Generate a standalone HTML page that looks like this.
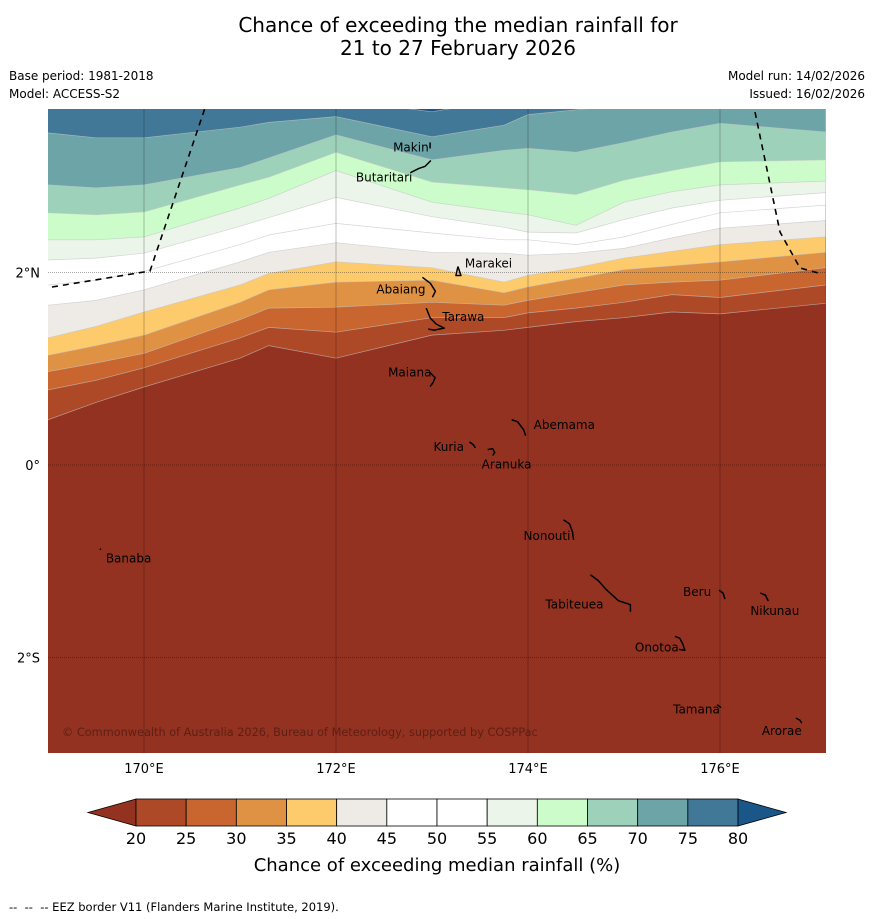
<!DOCTYPE html>
<html><head><meta charset="utf-8">
<style>
html,body{margin:0;padding:0;background:#fff;}
svg{display:block;font-family:"DejaVu Sans","Liberation Sans",sans-serif;}
</style></head>
<body>
<svg id="chart" width="873" height="919" viewBox="0 0 873 919" xmlns="http://www.w3.org/2000/svg">
  <text x="458" y="32" font-size="20" text-anchor="middle">Chance of exceeding the median rainfall for</text>
  <text x="458" y="55" font-size="20" text-anchor="middle">21 to 27 February 2026</text>
  <text x="9" y="80" font-size="12">Base period: 1981-2018</text>
  <text x="9" y="98" font-size="12">Model: ACCESS-S2</text>
  <text x="865" y="80" font-size="12" text-anchor="end">Model run: 14/02/2026</text>
  <text x="865" y="98" font-size="12" text-anchor="end">Issued: 16/02/2026</text>
  <defs><clipPath id="mapclip"><rect x="48" y="109" width="778" height="644"/></clipPath></defs>
  <g id="map" clip-path="url(#mapclip)"></g>
  <g id="axes"></g>
  <g id="cbar"></g>
  <text x="437" y="871" font-size="18" text-anchor="middle">Chance of exceeding median rainfall (%)</text>
  <text x="9" y="911" font-size="11.5" xml:space="preserve">--  --  -- EEZ border V11 (Flanders Marine Institute, 2019).</text>
</svg>
<script>
const lons = [169.0,169.5,170.0,171.0,171.3,172.0,173.0,173.75,174.0,174.5,175.0,175.5,176.0,177.1];
const levels = [20,25,30,35,40,45,50,55,60,65,70,75,80];
const th20 = [0.47,0.65,0.81,1.11,1.24,1.11,1.35,1.40,1.43,1.49,1.53,1.59,1.57,1.68];
const th25 = [0.78,0.88,1.01,1.32,1.43,1.38,1.53,1.53,1.58,1.63,1.69,1.77,1.74,1.87];
const th30 = [0.97,1.06,1.16,1.51,1.63,1.64,1.69,1.66,1.71,1.79,1.87,1.90,1.92,2.05];
const th35 = [1.14,1.24,1.35,1.69,1.82,1.90,1.92,1.79,1.85,1.94,2.03,2.07,2.11,2.21];
const th40 = [1.32,1.44,1.59,1.87,1.99,2.11,2.05,1.90,1.97,2.05,2.15,2.22,2.29,2.37];
const th45 = [1.66,1.71,1.82,2.11,2.21,2.31,2.21,2.20,2.18,2.20,2.25,2.36,2.46,2.54];
const th50 = [1.87,1.92,2.01,2.29,2.39,2.51,2.41,2.34,2.34,2.29,2.37,2.50,2.62,2.70];
const th55 = [2.13,2.15,2.20,2.48,2.57,2.78,2.58,2.47,2.42,2.41,2.55,2.67,2.75,2.83];
const th60 = [2.34,2.34,2.37,2.67,2.77,3.06,2.73,2.63,2.60,2.49,2.73,2.84,2.91,2.95];
const th65 = [2.62,2.60,2.63,2.91,2.99,3.25,2.94,2.88,2.86,2.81,2.96,3.06,3.15,3.17];
const th70 = [2.91,2.88,2.91,3.09,3.19,3.43,3.17,3.27,3.29,3.25,3.35,3.46,3.55,3.46];
const th75 = [3.45,3.40,3.40,3.51,3.56,3.62,3.41,3.53,3.64,3.69,3.74,3.79,3.79,3.79];
const th80 = [3.80,3.80,3.80,3.80,3.80,3.80,3.67,3.80,3.80,3.80,3.80,3.80,3.80,3.80];
const bandColors = ['#933220','#ae4928','#c9652f','#df9244','#fdcb6b','#eeebe7','#ffffff','#ffffff','#ebf5ea','#cbfcc9','#9dd1ba','#6ca4a8','#417898','#1b5688'];
const cbarTicks = [20,25,30,35,40,45,50,55,60,65,70,75,80];
const xTicks = [170,172,174,176];
const yTicks = [2,0,-2];
const yTickLabels = ['2°N','0°','2°S'];
const islands = [
 {name:'Makin',lon:172.98,lat:3.32,lx:-37,ly:6,path:[[0,-3],[0,3]]},
 {name:'Butaritari',lon:172.78,lat:3.06,lx:-55,ly:11,path:[[0,2],[8,-2],[14,-4],[20,-10]]},
 {name:'Marakei',lon:173.27,lat:2.0,lx:7,ly:-5,path:[[0,-6],[-2,3],[3,3],[0,-6]]},
 {name:'Abaiang',lon:172.9,lat:1.95,lx:-46,ly:16,path:[[0,0],[8,6],[13,14],[10,20]]},
 {name:'Tarawa',lon:172.94,lat:1.63,lx:16,ly:13,path:[[0,0],[4,10],[10,16],[18,20],[8,22],[2,21]]},
 {name:'Maiana',lon:172.98,lat:0.96,lx:-42,ly:4,path:[[0,0],[5,5],[3,10],[0,14]]},
 {name:'Abemama',lon:173.83,lat:0.47,lx:22,ly:9,path:[[0,0],[6,2],[12,10],[14,16]]},
 {name:'Kuria',lon:173.39,lat:0.24,lx:-36,ly:9,path:[[0,0],[4,3],[6,6]]},
 {name:'Aranuka',lon:173.58,lat:0.16,lx:-6,ly:19,path:[[0,0],[5,-1],[7,3],[5,6]]},
 {name:'Banaba',lon:169.54,lat:-0.87,lx:6,ly:14,path:[[0,0],[1,1]]},
 {name:'Nonouti',lon:174.37,lat:-0.57,lx:-40,ly:20,path:[[0,0],[6,4],[9,12],[10,20]]},
 {name:'Beru',lon:175.99,lat:-1.3,lx:-36,ly:6,path:[[0,0],[4,3],[6,9]]},
 {name:'Nikunau',lon:176.42,lat:-1.33,lx:-10,ly:22,path:[[0,0],[5,2],[8,8]]},
 {name:'Tabiteuea',lon:174.65,lat:-1.14,lx:-45,ly:34,path:[[0,0],[8,6],[16,15],[28,26],[40,30],[40,37]]},
 {name:'Onotoa',lon:175.53,lat:-1.78,lx:-40,ly:15,path:[[0,0],[5,2],[8,8],[10,14],[4,13]]},
 {name:'Tamana',lon:175.97,lat:-2.49,lx:-44,ly:9,path:[[0,0],[4,3]]},
 {name:'Arorae',lon:176.79,lat:-2.63,lx:-34,ly:17,path:[[0,0],[4,2],[6,5]]}
];
const NS='http://www.w3.org/2000/svg';
function xs(lon){return 144+(lon-170)*96;}
function ys(lat){return 465-lat*96.25;}
function mk(tag,attrs,parent){const e=document.createElementNS(NS,tag);for(const k in attrs)e.setAttribute(k,attrs[k]);parent.appendChild(e);return e;}
const map=document.getElementById('map');
const thresholds=[th20,th25,th30,th35,th40,th45,th50,th55,th60,th65,th70,th75,th80];
let base=mk('rect',{x:48,y:109,width:778,height:644,fill:bandColors[0]},map);


thresholds.forEach((arr,k)=>{
  let pts=lons.map((lo,i)=>xs(lo).toFixed(1)+','+ys(arr[i]).toFixed(1));
  let d='M'+pts.join(' L')+' L'+xs(lons[lons.length-1])+',100 L'+xs(lons[0])+',100 Z';
  const p=mk('path',{d:d,fill:bandColors[k+1]},map);
  
  
  const l=mk('path',{d:'M'+pts.join(' L'),fill:'none',stroke:'#c4c4c4','stroke-width':0.7,'stroke-opacity':0.7},map);
  
  
});
xTicks.forEach(t=>{
  const g=mk('line',{x1:xs(t),x2:xs(t),y1:109,y2:753,stroke:'#000','stroke-opacity':0.3,'stroke-width':0.8},map);
  
  
});
yTicks.forEach(t=>{
  const g=mk('line',{x1:48,x2:826,y1:ys(t),y2:ys(t),stroke:'#000','stroke-opacity':0.45,'stroke-width':0.8,'stroke-dasharray':'1,1'},map);
  
  
});
const eez1=mk('path',{d:'M52,287 L150,271 L206,105',fill:'none',stroke:'#000','stroke-width':1.6,'stroke-dasharray':'6,5'},map);


const eez2=mk('path',{d:'M755,112 L780,232 L800,268 L822,274',fill:'none',stroke:'#000','stroke-width':1.6,'stroke-dasharray':'6,5'},map);


islands.forEach(is=>{
  const x0=xs(is.lon),y0=ys(is.lat);
  const d='M'+is.path.map(p=>(x0+p[0])+','+(y0+p[1])).join(' L');
  const p=mk('path',{d:d,fill:'none',stroke:'#000','stroke-width':1.5,'stroke-linejoin':'round'},map);
  
  
  const t=mk('text',{x:x0+is.lx,y:y0+is.ly,'font-size':12,'text-anchor':'start'},map);
  t.textContent=is.name;
  
  
});
const cp=mk('text',{x:62,y:736,'font-size':11.3,fill:'#4a1a10','fill-opacity':0.75},map);
cp.textContent='© Commonwealth of Australia 2026, Bureau of Meteorology, supported by COSPPac';


const ax=document.getElementById('axes');
xTicks.forEach(t=>{
  const e=mk('text',{x:xs(t),y:773,'font-size':13,'text-anchor':'middle'},ax);
  e.textContent=t+'°E';
  
  
});
yTicks.forEach((t,i)=>{
  const e=mk('text',{x:40,y:ys(t)+5,'font-size':13,'text-anchor':'end'},ax);
  e.textContent=yTickLabels[i];
  
  
});
const cb=document.getElementById('cbar');
const cx0=136,cx1=738,cy=799,ch=27;
function cxs(v){return cx0+(v-20)/60*(cx1-cx0);}
const tl=mk('polygon',{points:`${cxs(20)},${cy} ${cxs(20)},${cy+ch} 88,${cy+ch/2}`,fill:bandColors[0],stroke:'#000','stroke-width':0.8},cb);


for(let i=0;i<cbarTicks.length-1;i++){
  const r=mk('rect',{x:cxs(cbarTicks[i]),y:cy,width:cxs(cbarTicks[i+1])-cxs(cbarTicks[i]),height:ch,fill:bandColors[i+1],stroke:'#000','stroke-width':0.8},cb);
  
  
}
const tr=mk('polygon',{points:`${cxs(80)},${cy} ${cxs(80)},${cy+ch} 786,${cy+ch/2}`,fill:bandColors[13],stroke:'#000','stroke-width':0.8},cb);


cbarTicks.forEach(t=>{
  const e=mk('text',{x:cxs(t),y:844,'font-size':16,'text-anchor':'middle'},cb);
  e.textContent=t;
  
  
});
</script>
</body></html>
